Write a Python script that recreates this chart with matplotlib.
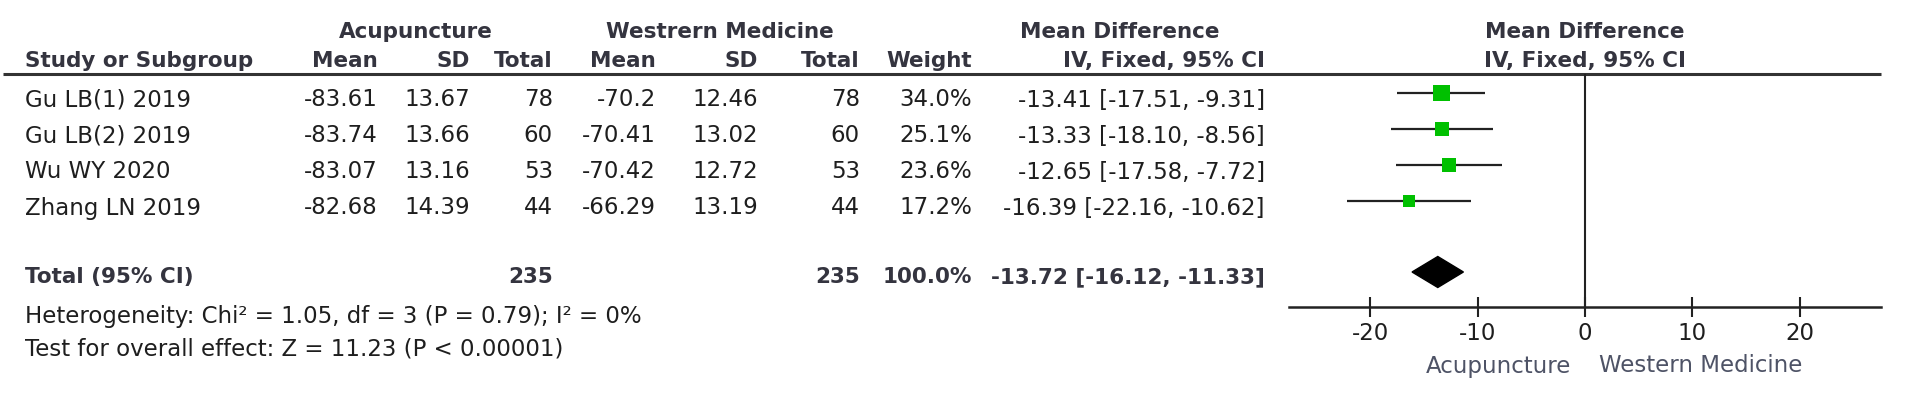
import numpy as np
from matplotlib import pyplot as plt

# study data
studies = ['Gu LB(1) 2019', 'Gu LB(2) 2019', 'Wu WY 2020', 'Zhang LN 2019']
acu_mean = [-83.61, -83.74, -83.07, -82.68]
acu_sd = [13.67, 13.66, 13.16, 14.39]
acu_n = [78, 60, 53, 44]
wm_mean = [-70.2, -70.41, -70.42, -66.29]
wm_sd = [12.46, 13.02, 12.72, 13.19]
wm_n = [78, 60, 53, 44]
weight = [34.0, 25.1, 23.6, 17.2]
md = [-13.41, -13.33, -12.65, -16.39]
ci_lo = [-17.51, -18.10, -17.58, -22.16]
ci_hi = [-9.31, -8.56, -7.72, -10.62]

total_acu_n = 235
total_wm_n = 235
total_weight = 100.0
total_md = -13.72
total_lo = -16.12
total_hi = -11.33

ticks = [-20, -10, 0, 10, 20]
x_range = 27.6

het_text = 'Heterogeneity: Chi² = 1.05, df = 3 (P = 0.79); I² = 0%'
test_text = 'Test for overall effect: Z = 11.23 (P < 0.00001)'

W, H = 1908, 399
fig = plt.figure(figsize=(W / 100, H / 100), dpi=100)
plt.rcParams['font.family'] = ['DejaVu Sans']

bg = fig.add_axes([0, 0, 1, 1])
bg.set_xlim(0, W)
bg.set_ylim(H, 0)
bg.axis('off')

FS = 16.5
FSB = 15.5
txt_col = '#1e1e1e'
head_col = '#34343f'


def t(x, y, s, ha='right', bold=False, col=None, fs=None):
    bg.text(x, y, s, ha=ha, va='center',
            fontsize=fs or (FSB if bold else FS),
            fontweight='bold' if bold else 'normal',
            color=col or (head_col if bold else txt_col))


# column right edges
c_study = 25
c_am, c_asd, c_an = 378, 470, 553
c_wm, c_wsd, c_wn = 656, 758, 860
c_w = 972
c_ci = 1265
zero_px = 1585

# headers
y_h1, y_h2 = 32, 61
t(416, y_h1, 'Acupuncture', ha='center', bold=True)
t(720, y_h1, 'Westrern Medicine', ha='center', bold=True)
t(1120, y_h1, 'Mean Difference', ha='center', bold=True)
t(zero_px, y_h1, 'Mean Difference', ha='center', bold=True)
t(c_study, y_h2, 'Study or Subgroup', ha='left', bold=True)
t(c_am, y_h2, 'Mean', bold=True)
t(c_asd, y_h2, 'SD', bold=True)
t(c_an, y_h2, 'Total', bold=True)
t(c_wm, y_h2, 'Mean', bold=True)
t(c_wsd, y_h2, 'SD', bold=True)
t(c_wn, y_h2, 'Total', bold=True)
t(c_w, y_h2, 'Weight', bold=True)
t(c_ci, y_h2, 'IV, Fixed, 95% CI', bold=True)
t(zero_px, y_h2, 'IV, Fixed, 95% CI', ha='center', bold=True)

bg.plot([3, zero_px + 296], [74, 74], color='#333333', lw=2.2,
        solid_capstyle='butt')

# study rows
row0, step = 100, 36
for i in range(len(studies)):
    y = row0 + step * i
    t(c_study, y, studies[i], ha='left')
    t(c_am, y, '{:g}'.format(acu_mean[i]))
    t(c_asd, y, '{:.2f}'.format(acu_sd[i]))
    t(c_an, y, str(acu_n[i]))
    t(c_wm, y, '{:g}'.format(wm_mean[i]))
    t(c_wsd, y, '{:.2f}'.format(wm_sd[i]))
    t(c_wn, y, str(wm_n[i]))
    t(c_w, y, '{:.1f}%'.format(weight[i]))
    t(c_ci, y, '{:.2f} [{:.2f}, {:.2f}]'.format(md[i], ci_lo[i], ci_hi[i]))

# total row
y_tot = 277
t(c_study, y_tot, 'Total (95% CI)', ha='left', bold=True)
t(c_an, y_tot, str(total_acu_n), bold=True)
t(c_wn, y_tot, str(total_wm_n), bold=True)
t(c_w, y_tot, '{:.1f}%'.format(total_weight), bold=True)
t(c_ci, y_tot, '{:.2f} [{:.2f}, {:.2f}]'.format(total_md, total_lo, total_hi),
  bold=True)

t(c_study, 317, het_text, ha='left')
t(c_study, 349, test_text, ha='left')

# forest plot panel
top_px, axis_px = 74, 307
px_per_unit = 10.73
left_px = zero_px - x_range * px_per_unit
fax = fig.add_axes([left_px / W, (H - axis_px) / H,
                    2 * x_range * px_per_unit / W, (axis_px - top_px) / H])
fax.set_xlim(-x_range, x_range)
fax.set_ylim(axis_px, top_px)
fax.patch.set_alpha(0)
for s in ['left', 'top', 'right']:
    fax.spines[s].set_visible(False)
fax.spines['bottom'].set_linewidth(1.8)
fax.spines['bottom'].set_color('#222222')
fax.set_yticks([])
fax.set_xticks(ticks)
fax.set_xticklabels([str(v) for v in ticks])
fax.tick_params(axis='x', direction='inout', length=14, width=1.5,
                color='#222222', pad=4, labelsize=FS, labelcolor=txt_col)

fax.axvline(0, color='#222222', lw=1.5)

mark0 = 93
for i in range(len(studies)):
    y = mark0 + step * i
    fax.plot([ci_lo[i], ci_hi[i]], [y, y], color='#222222', lw=1.6,
             solid_capstyle='butt', zorder=2)
    fax.scatter([md[i]], [y], marker='s', s=weight[i] * 4.4,
                color='#00c000', edgecolors='none', zorder=3)

yd = 272
hd = 15.5
fax.fill([total_lo, total_md, total_hi, total_md],
         [yd, yd - hd, yd, yd + hd], color='black', zorder=3)

t(zero_px - 14, 366, 'Acupuncture', col='#4e5366')
t(zero_px + 14, 366, 'Western Medicine', ha='left', col='#4e5366')

fig.savefig('out.png', dpi=100)
